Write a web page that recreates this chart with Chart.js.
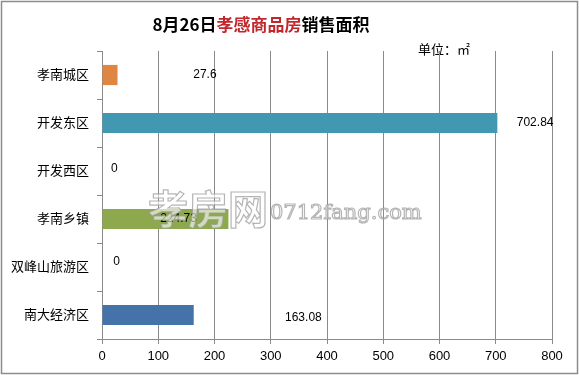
<!DOCTYPE html>
<html><head><meta charset="utf-8">
<script src="https://cdn.jsdelivr.net/npm/chart.js@4"></script>
<style>html,body{margin:0;padding:0;background:#fff;}#wrap{width:579px;height:375px;position:relative;}</style>
</head><body><div id="wrap"><canvas id="c" width="579" height="375"></canvas></div>
<script>
const categories = ['孝南城区','开发东区','开发西区','孝南乡镇','双峰山旅游区','南大经济区'];
const values = [27.6, 702.84, 0, 224.73, 0, 163.08];
const valueLabels = ['27.6','702.84','0','224.73','0','163.08'];
const barColors = ['#DE8642','#4298B0','#4298B0','#8EA84E','#4672AA','#4672AA'];
const xTicks = [0,100,200,300,400,500,600,700,800];
// where each value label sits, in axis units (as in the original picture)
const labelAnchor = [183, 770, 22, 136, 26, 358];
const labelShift = [0, 0, -2, 0, -5, 3];

const FONT = "'Liberation Sans','Noto Sans CJK SC',sans-serif";

const decor = {
  id:'decor',
  beforeDraw(chart){
    const ctx = chart.ctx;
    ctx.save();
    ctx.fillStyle='#fff';
    ctx.fillRect(0,0,chart.width,chart.height);
    ctx.strokeStyle='#8c8c8c';
    ctx.lineWidth=1.5;
    ctx.strokeRect(1.5,1.5,chart.width-3,chart.height-3);
    // title with mixed colours
    const parts=[['8月26日','#000'],['孝感商品房','#C0282D'],['销售面积','#000']];
    ctx.font="bold 17px 'Noto Sans CJK SC',sans-serif";
    ctx.textBaseline='middle';
    let total=0; parts.forEach(p=>total+=ctx.measureText(p[0]).width);
    let x=261-total/2;
    parts.forEach(p=>{ctx.fillStyle=p[1];ctx.textAlign='left';ctx.fillText(p[0],x,25);x+=ctx.measureText(p[0]).width;});
    ctx.font="13px 'Noto Sans CJK SC',sans-serif";
    ctx.fillStyle='#000';
    ctx.fillText('单位：㎡',418,49);
    ctx.restore();
  },
  afterDatasetsDraw(chart){
    const ctx=chart.ctx;
    const xs=chart.scales.x, ys=chart.scales.y;
    ctx.save();
    ctx.font="12px "+FONT;
    ctx.fillStyle='#000';
    ctx.textAlign='center';
    ctx.textBaseline='middle';
    valueLabels.forEach((t,i)=>{
      ctx.fillText(t, xs.getPixelForValue(labelAnchor[i]), ys.getPixelForValue(i)+labelShift[i]);
    });
    // watermark
    ctx.lineWidth=1.2;
    ctx.strokeStyle='rgba(150,150,150,0.7)';
    ctx.fillStyle='rgba(255,255,255,0.6)';
    ctx.textAlign='left';
    ctx.textBaseline='alphabetic';
    ctx.font="bold 40px 'Noto Sans CJK SC',sans-serif";
    ctx.fillText('孝房网',148,224);
    ctx.strokeText('孝房网',148,224);
    ctx.font="21px 'DejaVu Serif',serif";
    ctx.fillText('0712fang.com',270,219);
    ctx.strokeText('0712fang.com',270,219);
    ctx.restore();
  }
};

new Chart(document.getElementById('c'),{
  type:'bar',
  data:{labels:categories,datasets:[{data:values,backgroundColor:barColors,borderWidth:0,categoryPercentage:1,barPercentage:0.42}]},
  options:{
    indexAxis:'y',
    responsive:false,
    animation:false,
    layout:{padding:{top:51,right:27,left:0,bottom:0}},
    plugins:{legend:{display:false},tooltip:{enabled:false},title:{display:false}},
    scales:{
      x:{
        min:0,max:800,
        afterBuildTicks(s){s.ticks=xTicks.map(v=>({value:v}));},
        afterFit(s){s.height=36;},
        grid:{color:'#8a8a8a',lineWidth:1,tickLength:5,drawTicks:true},
        border:{color:'#8a8a8a'},
        ticks:{font:{family:FONT,size:13},color:'#000',padding:5,maxRotation:0}
      },
      y:{
        afterFit(s){s.width=102;},
        grid:{offset:true,drawOnChartArea:false,tickLength:5,color:'#8a8a8a'},
        border:{color:'#8a8a8a'},
        ticks:{font:{family:FONT,size:13},color:'#000',padding:8}
      }
    }
  },
  plugins:[decor]
});
</script></body></html>
